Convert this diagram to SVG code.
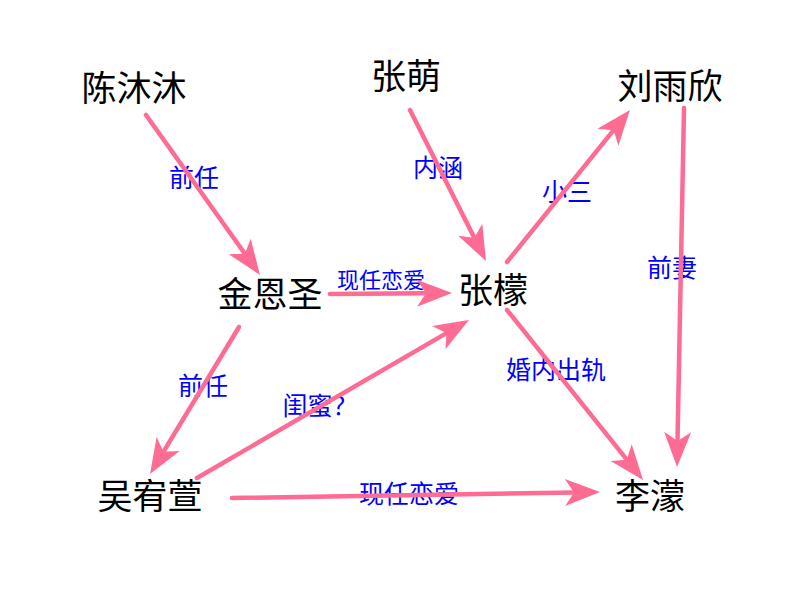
<svg xmlns="http://www.w3.org/2000/svg" width="800" height="600" viewBox="0 0 800 600">
<style>
.node text{font-family:"Noto Sans CJK SC","Noto Sans",sans-serif;font-size:35px;fill:#000;text-anchor:middle}
.lbl{font-family:"Noto Sans CJK SC","Noto Sans",sans-serif;font-size:25px;fill:#0000ff;text-anchor:middle}
.edge{stroke:#fe6b93;stroke-width:4.5;fill:none;stroke-linecap:round;marker-end:url(#arr)}
</style>
<defs>
<marker id="arr" viewBox="-10 -15 40 30" markerWidth="40" markerHeight="30" refX="0" refY="0" orient="auto" markerUnits="userSpaceOnUse">
<path d="M26,0 L-9,-13.5 L0,0 L-9,13.5 Z" fill="#fe6b93"/>
</marker>
</defs>
<rect width="800" height="600" fill="#fff"/>
<g id="nodes">
<g id="n-chenmumu" class="node"><text x="134" y="101">陈沐沐</text></g>
<g id="n-zhangmeng" class="node"><text x="406" y="89">张萌</text></g>
<g id="n-liuyuxin" class="node"><text x="670" y="99">刘雨欣</text></g>
<g id="n-jinensheng" class="node"><text x="270" y="307">金恩圣</text></g>
<g id="n-zhangmeng2" class="node"><text x="493" y="303">张檬</text></g>
<g id="n-wuyouxuan" class="node"><text x="150" y="509">吴宥萱</text></g>
<g id="n-limeng" class="node"><text x="650" y="509">李濛</text></g>
</g>
<g id="labels">
<text class="lbl" x="194" y="187">前任</text>
<text class="lbl" x="438" y="177">内涵</text>
<text class="lbl" x="567" y="201">小三</text>
<text class="lbl" x="672" y="277">前妻</text>
<text class="lbl" x="381" y="288" style="font-size:22px">现任恋爱</text>
<text class="lbl" x="203" y="395">前任</text>
<text class="lbl" x="320" y="415">闺蜜？</text>
<text class="lbl" x="556" y="379">婚内出轨</text>
<text class="lbl" x="409" y="503">现任恋爱</text>
</g>
<g id="connectors">
<line class="edge" x1="146" y1="115" x2="244.9" y2="253.8"/>
<line class="edge" x1="410" y1="110" x2="474.3" y2="237.8"/>
<line class="edge" x1="507" y1="262" x2="613.6" y2="130.2"/>
<line class="edge" x1="684" y1="108" x2="677.5" y2="441"/>
<line class="edge" x1="330" y1="294" x2="426" y2="293.2"/>
<line class="edge" x1="239" y1="327" x2="163.5" y2="451.7"/>
<line class="edge" x1="197" y1="478" x2="446.5" y2="333.1"/>
<line class="edge" x1="507" y1="310" x2="626.8" y2="459.7"/>
<line class="edge" x1="232" y1="498" x2="574" y2="492.4"/>
</g>
</svg>
